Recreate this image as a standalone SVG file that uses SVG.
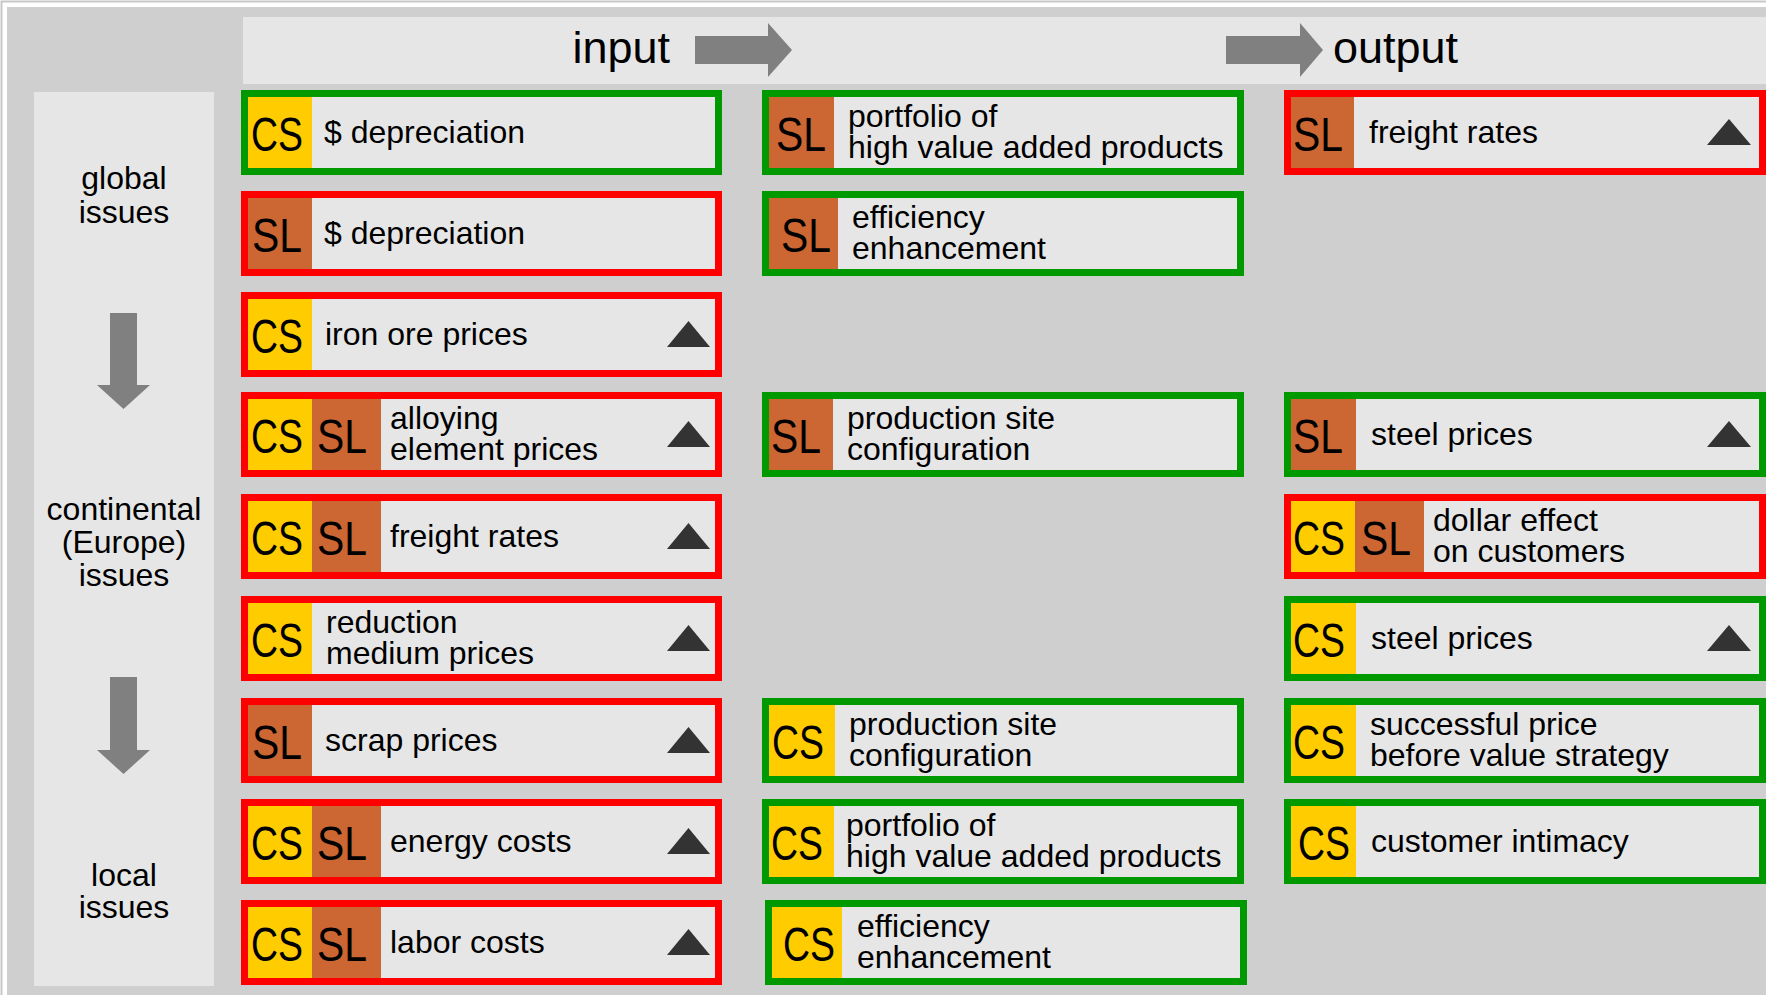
<svg xmlns="http://www.w3.org/2000/svg" width="1766" height="995" viewBox="0 0 1766 995">
<style>
.bg{fill:#cfcfcf}
.panel{fill:#e6e6e6}
.box{fill:#e6e6e6;stroke-width:7}
.g{stroke:#009900}
.r{stroke:#ff0000}
.cs{fill:#ffcc00}
.sl{fill:#cc6633}
.t{font-family:"Liberation Sans",Arial,sans-serif;font-size:32px;fill:#000}
.tag{font-family:"Liberation Sans",Arial,sans-serif;font-size:48px;fill:#000}
.hd{font-family:"Liberation Sans",Arial,sans-serif;font-size:45px;fill:#000}
.side{font-family:"Liberation Sans",Arial,sans-serif;font-size:32px;fill:#000;text-anchor:middle}
.tri{fill:#333333}
.arr{fill:#808080}
</style>
<rect x="0" y="0" width="1766" height="995" fill="#ffffff"/>
<rect x="1.5" y="1.5" width="1770" height="1000" fill="none" stroke="#c8c8c8" stroke-width="2"/>
<rect class="bg" x="7" y="7" width="1759" height="988"/>

<g id="header">
<rect class="panel" x="243" y="17" width="1523" height="67"/>
<text class="hd" x="670" y="63" text-anchor="end">input</text>
<text class="hd" x="1333" y="63">output</text>
</g>

<g id="levels">
<rect class="panel" x="34" y="92" width="180" height="894"/>
<text class="side" x="124" y="189">global<tspan x="124" dy="34">issues</tspan></text>
<text class="side" x="124" y="520">continental<tspan x="124" dy="33">(Europe)</tspan><tspan x="124" dy="33">issues</tspan></text>
<text class="side" x="124" y="886">local<tspan x="124" dy="32">issues</tspan></text>
</g>

<g id="connectors">
<path class="arr" d="M695,36H768V23L792,50L768,77V64H695Z"/>
<path class="arr" d="M1226,36H1300V23L1323,50L1300,77V64H1226Z"/>
<path class="arr" d="M110,313H137V385H150L123.5,409L97,385H110Z"/>
<path class="arr" d="M110,677H137V750H150L123.5,774L97,750H110Z"/>
</g>

<!-- Column 1 -->
<g id="c1r0">
<rect class="box g" x="244.5" y="93.5" width="474" height="78"/>
<rect class="cs" x="248" y="97" width="64" height="71"/>
<text class="tag" x="251" y="151" textLength="52" lengthAdjust="spacingAndGlyphs">CS</text>
<text class="t" x="324" y="143">$ depreciation</text>
</g>
<g id="c1r1">
<rect class="box r" x="244.5" y="194.5" width="474" height="78"/>
<rect class="sl" x="248" y="198" width="64" height="71"/>
<text class="tag" x="252" y="252" textLength="50" lengthAdjust="spacingAndGlyphs">SL</text>
<text class="t" x="324" y="244">$ depreciation</text>
</g>
<g id="c1r2">
<rect class="box r" x="244.5" y="295.5" width="474" height="78"/>
<rect class="cs" x="248" y="299" width="64" height="71"/>
<text class="tag" x="251" y="353" textLength="52" lengthAdjust="spacingAndGlyphs">CS</text>
<text class="t" x="325" y="345">iron ore prices</text>
<polygon class="tri" points="667,347 688.5,321 710,347"/>
</g>
<g id="c1r3">
<rect class="box r" x="244.5" y="395.5" width="474" height="78"/>
<rect class="cs" x="248" y="399" width="64" height="71"/>
<rect class="sl" x="312" y="399" width="69" height="71"/>
<text class="tag" x="251" y="453" textLength="52" lengthAdjust="spacingAndGlyphs">CS</text>
<text class="tag" x="317" y="453" textLength="50" lengthAdjust="spacingAndGlyphs">SL</text>
<text class="t" x="390" y="429">alloying<tspan x="390" dy="31">element prices</tspan></text>
<polygon class="tri" points="667,447 688.5,421 710,447"/>
</g>
<g id="c1r4">
<rect class="box r" x="244.5" y="497.5" width="474" height="78"/>
<rect class="cs" x="248" y="501" width="64" height="71"/>
<rect class="sl" x="312" y="501" width="69" height="71"/>
<text class="tag" x="251" y="555" textLength="52" lengthAdjust="spacingAndGlyphs">CS</text>
<text class="tag" x="317" y="555" textLength="50" lengthAdjust="spacingAndGlyphs">SL</text>
<text class="t" x="390" y="547">freight rates</text>
<polygon class="tri" points="667,549 688.5,523 710,549"/>
</g>
<g id="c1r5">
<rect class="box r" x="244.5" y="599.5" width="474" height="78"/>
<rect class="cs" x="248" y="603" width="64" height="71"/>
<text class="tag" x="251" y="657" textLength="52" lengthAdjust="spacingAndGlyphs">CS</text>
<text class="t" x="326" y="633">reduction<tspan x="326" dy="31">medium prices</tspan></text>
<polygon class="tri" points="667,651 688.5,625 710,651"/>
</g>
<g id="c1r6">
<rect class="box r" x="244.5" y="701.5" width="474" height="78"/>
<rect class="sl" x="248" y="705" width="64" height="71"/>
<text class="tag" x="252" y="759" textLength="50" lengthAdjust="spacingAndGlyphs">SL</text>
<text class="t" x="325" y="751">scrap prices</text>
<polygon class="tri" points="667,753 688.5,727 710,753"/>
</g>
<g id="c1r7">
<rect class="box r" x="244.5" y="802.5" width="474" height="78"/>
<rect class="cs" x="248" y="806" width="64" height="71"/>
<rect class="sl" x="312" y="806" width="69" height="71"/>
<text class="tag" x="251" y="860" textLength="52" lengthAdjust="spacingAndGlyphs">CS</text>
<text class="tag" x="317" y="860" textLength="50" lengthAdjust="spacingAndGlyphs">SL</text>
<text class="t" x="390" y="852">energy costs</text>
<polygon class="tri" points="667,854 688.5,828 710,854"/>
</g>
<g id="c1r8">
<rect class="box r" x="244.5" y="903.5" width="474" height="78"/>
<rect class="cs" x="248" y="907" width="64" height="71"/>
<rect class="sl" x="312" y="907" width="69" height="71"/>
<text class="tag" x="251" y="961" textLength="52" lengthAdjust="spacingAndGlyphs">CS</text>
<text class="tag" x="317" y="961" textLength="50" lengthAdjust="spacingAndGlyphs">SL</text>
<text class="t" x="390" y="953">labor costs</text>
<polygon class="tri" points="667,955 688.5,929 710,955"/>
</g>

<!-- Column 2 -->
<g id="c2r0">
<rect class="box g" x="765.5" y="93.5" width="475" height="78"/>
<rect class="sl" x="769" y="97" width="65" height="71"/>
<text class="tag" x="776" y="151" textLength="50" lengthAdjust="spacingAndGlyphs">SL</text>
<text class="t" x="848" y="127">portfolio of<tspan x="848" dy="31">high value added products</tspan></text>
</g>
<g id="c2r1">
<rect class="box g" x="765.5" y="194.5" width="475" height="78"/>
<rect class="sl" x="769" y="198" width="69" height="71"/>
<text class="tag" x="781" y="252" textLength="50" lengthAdjust="spacingAndGlyphs">SL</text>
<text class="t" x="852" y="228">efficiency<tspan x="852" dy="31">enhancement</tspan></text>
</g>
<g id="c2r3">
<rect class="box g" x="765.5" y="395.5" width="475" height="78"/>
<rect class="sl" x="769" y="399" width="64" height="71"/>
<text class="tag" x="771" y="453" textLength="50" lengthAdjust="spacingAndGlyphs">SL</text>
<text class="t" x="847" y="429">production site<tspan x="847" dy="31">configuration</tspan></text>
</g>
<g id="c2r6">
<rect class="box g" x="765.5" y="701.5" width="475" height="78"/>
<rect class="cs" x="769" y="705" width="66" height="71"/>
<text class="tag" x="772" y="759" textLength="52" lengthAdjust="spacingAndGlyphs">CS</text>
<text class="t" x="849" y="735">production site<tspan x="849" dy="31">configuration</tspan></text>
</g>
<g id="c2r7">
<rect class="box g" x="765.5" y="802.5" width="475" height="78"/>
<rect class="cs" x="769" y="806" width="65" height="71"/>
<text class="tag" x="771" y="860" textLength="52" lengthAdjust="spacingAndGlyphs">CS</text>
<text class="t" x="846" y="836">portfolio of<tspan x="846" dy="31">high value added products</tspan></text>
</g>
<g id="c2r8">
<rect class="box g" x="768.5" y="903.5" width="475" height="78"/>
<rect class="cs" x="772" y="907" width="70" height="71"/>
<text class="tag" x="783" y="961" textLength="52" lengthAdjust="spacingAndGlyphs">CS</text>
<text class="t" x="857" y="937">efficiency<tspan x="857" dy="31">enhancement</tspan></text>
</g>

<!-- Column 3 -->
<g id="c3r0">
<rect class="box r" x="1287.5" y="93.5" width="475" height="78"/>
<rect class="sl" x="1291" y="97" width="63" height="71"/>
<text class="tag" x="1293" y="151" textLength="50" lengthAdjust="spacingAndGlyphs">SL</text>
<text class="t" x="1369" y="143">freight rates</text>
<polygon class="tri" points="1707,145 1729,119 1751,145"/>
</g>
<g id="c3r3">
<rect class="box g" x="1287.5" y="395.5" width="475" height="78"/>
<rect class="sl" x="1291" y="399" width="65" height="71"/>
<text class="tag" x="1293" y="453" textLength="50" lengthAdjust="spacingAndGlyphs">SL</text>
<text class="t" x="1371" y="445">steel prices</text>
<polygon class="tri" points="1707,447 1729,421 1751,447"/>
</g>
<g id="c3r4">
<rect class="box r" x="1287.5" y="497.5" width="475" height="78"/>
<rect class="cs" x="1291" y="501" width="64" height="71"/>
<rect class="sl" x="1355" y="501" width="69" height="71"/>
<text class="tag" x="1293" y="555" textLength="52" lengthAdjust="spacingAndGlyphs">CS</text>
<text class="tag" x="1361" y="555" textLength="50" lengthAdjust="spacingAndGlyphs">SL</text>
<text class="t" x="1433" y="531">dollar effect<tspan x="1433" dy="31">on customers</tspan></text>
</g>
<g id="c3r5">
<rect class="box g" x="1287.5" y="599.5" width="475" height="78"/>
<rect class="cs" x="1291" y="603" width="65" height="71"/>
<text class="tag" x="1293" y="657" textLength="52" lengthAdjust="spacingAndGlyphs">CS</text>
<text class="t" x="1371" y="649">steel prices</text>
<polygon class="tri" points="1707,651 1729,625 1751,651"/>
</g>
<g id="c3r6">
<rect class="box g" x="1287.5" y="701.5" width="475" height="78"/>
<rect class="cs" x="1291" y="705" width="65" height="71"/>
<text class="tag" x="1293" y="759" textLength="52" lengthAdjust="spacingAndGlyphs">CS</text>
<text class="t" x="1370" y="735">successful price<tspan x="1370" dy="31">before value strategy</tspan></text>
</g>
<g id="c3r7">
<rect class="box g" x="1287.5" y="802.5" width="475" height="78"/>
<rect class="cs" x="1291" y="806" width="65" height="71"/>
<text class="tag" x="1298" y="860" textLength="52" lengthAdjust="spacingAndGlyphs">CS</text>
<text class="t" x="1371" y="852">customer intimacy</text>
</g>
</svg>
